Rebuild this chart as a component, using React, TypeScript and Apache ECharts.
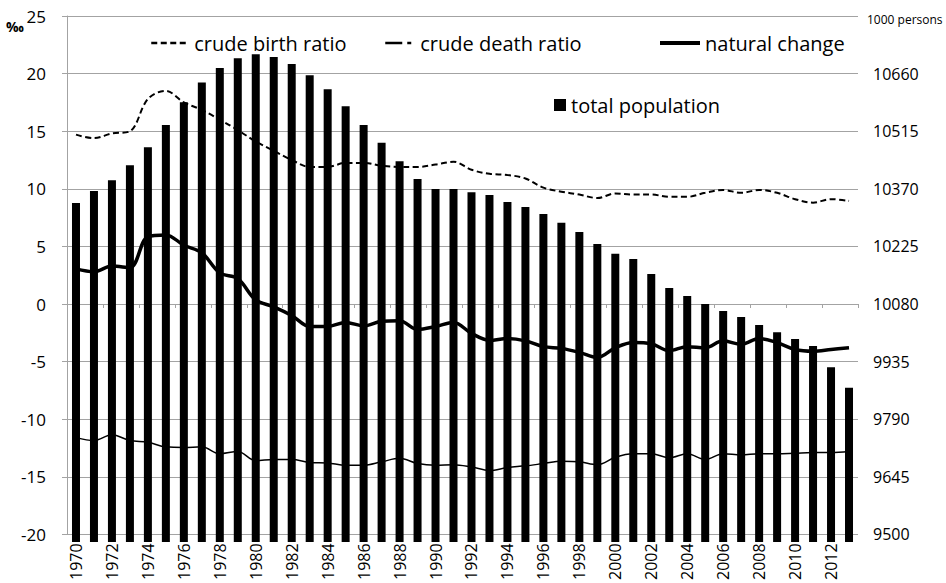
import React, { useEffect, useRef } from "react";
import * as echarts from "echarts";

const years = [
  "1970", "1971", "1972", "1973", "1974", "1975", "1976", "1977", "1978", "1979",
  "1980", "1981", "1982", "1983", "1984", "1985", "1986", "1987", "1988", "1989",
  "1990", "1991", "1992", "1993", "1994", "1995", "1996", "1997", "1998", "1999",
  "2000", "2001", "2002", "2003", "2004", "2005", "2006", "2007", "2008", "2009",
  "2010", "2011", "2012", "2013",
];

// total population, 1000 persons (right axis)
const totalPopulation = [
  10335, 10365, 10392, 10430, 10475, 10531, 10588, 10638, 10674, 10699,
  10709, 10702, 10684, 10656, 10621, 10578, 10531, 10486, 10440, 10395,
  10370, 10370, 10362, 10355, 10337, 10325, 10307, 10285, 10262, 10232,
  10207, 10194, 10156, 10121, 10101, 10081, 10063, 10048, 10028, 10010,
  9993, 9975, 9922, 9870,
];

// crude birth ratio, ‰
const birthRatio = [
  14.7, 14.4, 14.8, 15.0, 17.8, 18.5, 17.5, 16.85, 16.0, 15.1,
  14.1, 13.3, 12.5, 11.9, 11.9, 12.25, 12.25, 12.0, 11.9, 11.9,
  12.1, 12.35, 11.65, 11.3, 11.2, 10.9, 10.1, 9.75, 9.5, 9.2,
  9.6, 9.5, 9.5, 9.3, 9.3, 9.65, 9.9, 9.65, 9.9, 9.65,
  9.1, 8.8, 9.1, 8.95,
];

// crude death ratio, ‰ (plotted as negative)
const deathRatio = [
  -11.6, -11.85, -11.35, -11.85, -12.0, -12.4, -12.45, -12.4, -13.0, -12.8,
  -13.6, -13.5, -13.5, -13.75, -13.8, -14.0, -14.0, -13.7, -13.4, -13.85,
  -14.0, -13.95, -14.15, -14.45, -14.2, -14.05, -13.85, -13.65, -13.7, -13.95,
  -13.3, -13.0, -13.0, -13.35, -13.0, -13.5, -13.0, -13.1, -13.0, -13.0,
  -12.95, -12.9, -12.9, -12.8,
];

// natural change, ‰
const naturalChange = [
  3.05, 2.8, 3.3, 3.15, 5.85, 6.0, 5.1, 4.45, 2.7, 2.2,
  0.35, -0.25, -1.0, -1.95, -1.95, -1.6, -1.9, -1.5, -1.45, -2.2,
  -1.95, -1.6, -2.55, -3.15, -3.0, -3.2, -3.7, -3.85, -4.2, -4.65,
  -3.8, -3.35, -3.45, -4.05, -3.7, -3.8, -3.2, -3.5, -3.0, -3.35,
  -3.95, -4.1, -3.95, -3.8,
];

const leftTicks = { min: -20, max: 25, interval: 5 };
const rightTicks = { min: 9500, max: 10805, interval: 145 };

const FONT = "'Open Sans', 'DejaVu Sans', sans-serif";
const GRID_GRAY = "#a3a3a3";

export default function App() {
  const ref = useRef<HTMLDivElement>(null);

  useEffect(() => {
    document.body.style.margin = "0";
    const el = ref.current;
    if (!el) return;
    const chart = echarts.init(el, null, { renderer: "svg" });

    const gridTop = 16;
    const gridBottom = 48;
    const barOverhang = 7; // bars run a few px below the bottom line
    const plotH = 583 - gridTop - gridBottom;
    const perPx = (rightTicks.max - rightTicks.min) / plotH;
    const barMin = rightTicks.min - barOverhang * perPx;

    const legendBase = {
      orient: "horizontal",
      padding: 0,
      itemHeight: 12,
      textStyle: { fontSize: 20, fontFamily: FONT, color: "#000" },
      selectedMode: false,
    };

    const option: any = {
      animation: false,
      backgroundColor: "#fff",
      textStyle: { fontFamily: FONT },
      grid: [
        { left: 67, right: 88, top: gridTop, bottom: gridBottom },
        { left: 67, right: 88, top: gridTop, bottom: gridBottom - barOverhang },
      ],
      legend: [
        {
          ...legendBase,
          left: 150,
          top: 33,
          itemWidth: 38,
          data: ["crude birth ratio"],
          itemStyle: { opacity: 0 },
          lineStyle: { type: [6, 3.5], width: 2.5 },
        },
        {
          ...legendBase,
          left: 384,
          top: 33,
          itemWidth: 30,
          data: ["crude death ratio"],
          itemStyle: { opacity: 0 },
          lineStyle: { type: [17, 5, 4, 30], width: 2.5 },
        },
        {
          ...legendBase,
          left: 658,
          top: 33,
          itemWidth: 40,
          data: ["natural change"],
          itemStyle: { opacity: 0 },
          lineStyle: { width: 4 },
        },
        {
          ...legendBase,
          left: 554,
          top: 95,
          icon: "rect",
          itemWidth: 12,
          itemHeight: 12,
          data: ["total population"],
        },
      ],
      xAxis: [
        {
          type: "category",
          gridIndex: 0,
          data: years,
          position: "bottom",
          boundaryGap: true,
          axisLine: { show: true, onZero: true, lineStyle: { color: GRID_GRAY, width: 1 } },
          axisTick: { show: true, length: 4, lineStyle: { color: GRID_GRAY } },
          axisLabel: { show: false },
          splitLine: { show: false },
        },
        {
          type: "category",
          gridIndex: 0,
          data: years,
          position: "bottom",
          boundaryGap: true,
          axisLine: { show: false, onZero: false },
          axisTick: { show: false },
          axisLabel: {
            show: true,
            interval: 1,
            rotate: 90,
            fontSize: 16,
            color: "#000",
            margin: 9,
            fontFamily: FONT,
          },
          splitLine: { show: false },
        },
        {
          type: "category",
          gridIndex: 1,
          data: years,
          show: false,
          boundaryGap: true,
        },
      ],
      yAxis: [
        {
          type: "value",
          gridIndex: 0,
          position: "left",
          min: leftTicks.min,
          max: leftTicks.max,
          interval: leftTicks.interval,
          axisLine: { show: true, lineStyle: { color: GRID_GRAY, width: 1 } },
          axisTick: { show: true, length: 5, lineStyle: { color: GRID_GRAY } },
          axisLabel: { fontSize: 17, color: "#000", margin: 21, fontFamily: FONT },
          splitLine: { show: true, lineStyle: { color: GRID_GRAY, width: 1 } },
        },
        {
          type: "value",
          gridIndex: 0,
          position: "right",
          min: rightTicks.min,
          max: rightTicks.max,
          interval: rightTicks.interval,
          axisLine: { show: false },
          axisTick: { show: false },
          splitLine: { show: false },
          axisLabel: {
            fontSize: 16,
            color: "#000",
            margin: 15,
            fontFamily: FONT,
            formatter: (v: number) => (v >= rightTicks.max ? "" : String(v)),
          },
        },
        {
          type: "value",
          gridIndex: 1,
          show: false,
          min: barMin,
          max: rightTicks.max,
          splitLine: { show: false },
        },
      ],
      graphic: [
        {
          type: "text",
          left: 6,
          top: 19,
          style: { text: "‰", fontSize: 14, fontWeight: "bold", fill: "#000", fontFamily: FONT },
        },
        {
          type: "text",
          left: 867,
          top: 13,
          style: { text: "1000 persons", fontSize: 12, fill: "#000", fontFamily: FONT },
        },
      ],
      series: [
        {
          name: "total population",
          type: "bar",
          xAxisIndex: 2,
          yAxisIndex: 2,
          data: totalPopulation,
          barWidth: 8,
          itemStyle: { color: "#000" },
          z: 1,
        },
        {
          name: "crude birth ratio",
          type: "line",
          xAxisIndex: 0,
          yAxisIndex: 0,
          data: birthRatio,
          symbol: "none",
          smooth: 0.35,
          lineStyle: { color: "#000", width: 2, type: [6, 3.5] },
          itemStyle: { color: "#000" },
          z: 3,
        },
        {
          name: "crude death ratio",
          type: "line",
          xAxisIndex: 0,
          yAxisIndex: 0,
          data: deathRatio,
          symbol: "none",
          smooth: 0.35,
          lineStyle: { color: "#000", width: 1.5 },
          itemStyle: { color: "#000" },
          z: 3,
        },
        {
          name: "natural change",
          type: "line",
          xAxisIndex: 0,
          yAxisIndex: 0,
          data: naturalChange,
          symbol: "none",
          smooth: 0.35,
          lineStyle: { color: "#000", width: 3.5 },
          itemStyle: { color: "#000" },
          z: 3,
        },
      ],
    };

    chart.setOption(option);
    return () => chart.dispose();
  }, []);

  return <div ref={ref} style={{ width: 946, height: 583 }} />;
}
